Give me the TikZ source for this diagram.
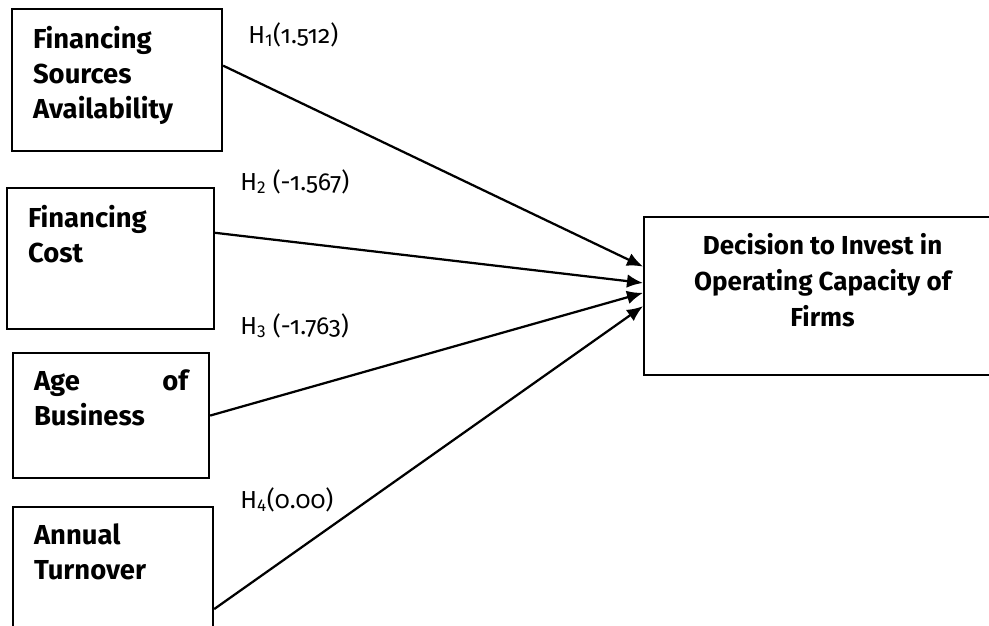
\documentclass[tikz,border=0pt]{standalone}
\usepackage{fontspec}
\setmainfont{Fira Sans}[Numbers=OldStyle]
\usepackage{tikz}
\usetikzlibrary{positioning,calc}
\usetikzlibrary{arrows.meta}
\newcommand{\Hsub}[1]{H\textsubscript{\addfontfeature{Numbers=Lining}#1}}
\tikzstyle{fattore} = [rectangle, draw=black, line width=1.5pt, anchor=north west, inner xsep=0.525cm, inner ysep=0.42cm, font=\fontsize{19.5}{25}\selectfont\bfseries]
\tikzstyle{decisione} = [fattore, font=\fontsize{18.5}{25.5}\selectfont\bfseries]
\tikzstyle{ipotesi} = [anchor=base west, inner sep=0pt, font=\fontsize{17.5}{20}\selectfont]
\tikzstyle{arrow} = [line width=1.6pt,-{Latex[length=0.4cm,width=0.34cm]}]
\begin{document}
\begin{tikzpicture}[x=0.025cm,y=-0.025cm]
	\path[use as bounding box, clip] (0,0) rectangle (989,626);
	\node (f1) at (11,8) [fattore] {\parbox[t][2.71cm][t]{4.2cm}{Financing\\Sources\\Availability}};
	\node (f2) at (6,187) [fattore] {\parbox[t][2.685cm][t]{4.125cm}{Financing\\Cost}};
	\node (f3) at (12,352) [fattore] {\parbox[t][2.285cm][t]{3.85cm}{Age\hfill of\\Business}};
	\node (f4) at (12,506) [fattore] {\parbox[t][4.26cm][t]{3.95cm}{Annual\\Turnover}};
	\node (d) at (643,216) [decisione] {\parbox[t][3.11cm][t]{7.875cm}{\centering Decision to Invest in\\Operating Capacity of\\Firms}};
	\node (h1) at (248,43) [ipotesi] {\Hsub{1}(1.512)};
	\node (h2) at (240,190) [ipotesi] {\Hsub{2} (-1.567)};
	\node (h3) at (240,334) [ipotesi] {\Hsub{3} (-1.763)};
	\node (h4) at (240,508) [ipotesi] {\Hsub{4}(0.00)};
	\draw[arrow] ($(f1.north east)!0.40!(f1.south east)$) -- ($(d.north west)!0.316!(d.south west)$);
	\draw[arrow] ($(f2.north east)!0.32!(f2.south east)$) -- ($(d.north west)!0.418!(d.south west)$);
	\draw[arrow] (f3.east) -- ($(d.north west)!0.48!(d.south west)$);
	\draw[arrow] (f4.east) -- ($(d.north west)!0.563!(d.south west)$);
\end{tikzpicture}
\end{document}
